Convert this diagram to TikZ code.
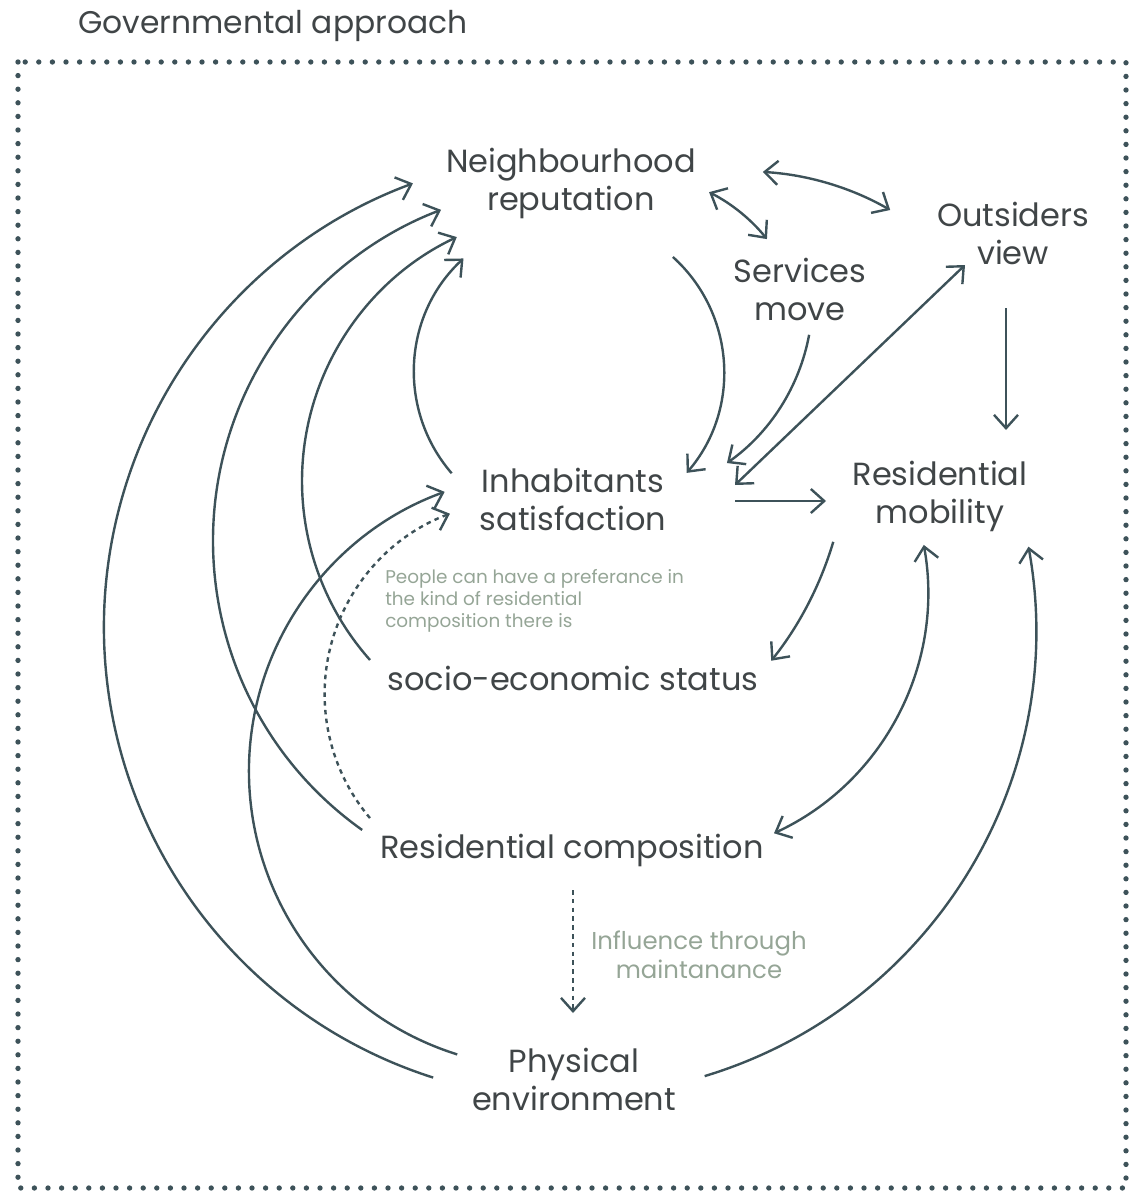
\documentclass[tikz,border=0pt]{standalone}
\usepackage{fontspec}
\setmainfont{Poppins}
\usetikzlibrary{arrows.meta,calc}
\definecolor{ln}{HTML}{3D5259}
\definecolor{tx}{HTML}{404547}
\definecolor{note}{HTML}{95A596}
\begin{document}
\begin{tikzpicture}[x=0.75pt,y=-0.75pt,
  lbl/.style={font=\fontsize{24}{28.5}\selectfont, text=tx, align=center, inner sep=0pt},
  notelbl/.style={text=note, inner sep=0pt},
  tipb/.tip={Straight Barb[length=10pt,width=18pt]},
  link/.style={draw=ln, line width=1.8pt, -tipb},
  twoway/.style={draw=ln, line width=1.8pt, tipb-tipb},
  dotlink/.style={link, dash pattern=on 3.4pt off 3.2pt},
]
\useasboundingbox (0,0) rectangle (1128,1192);
% frame
\draw[ln, line width=4pt, line cap=round, dash pattern=on 0pt off 10.2pt] (18,62) rectangle (1126,1188);
% labels
\node[anchor=base west, font=\fontsize{23.5}{28}\selectfont, text=tx, inner sep=0pt] (title) at (78,33) {Governmental approach};
\node[lbl, anchor=base] (rep) at (571,210) {Neighbourhood\\reputation};
\node[lbl, anchor=base] (out) at (1013,264) {Outsiders\\view};
\node[lbl, anchor=base] (serv) at (800,320) {Services\\move};
\node[lbl, anchor=base] (inh) at (573,530) {Inhabitants\\satisfaction};
\node[lbl, anchor=base] (mob) at (940,523) {Residential\\mobility};
\node[lbl, anchor=base] (ses) at (573,690) {socio-economic status};
\node[lbl, anchor=base] (comp) at (572,858) {Residential composition};
\node[lbl, anchor=base] (phys) at (574,1110) {Physical\\environment};
\node[notelbl, anchor=base west, align=left, font=\fontsize{13.8}{16.5}\selectfont] (note1) at (385,627) {People can have a preferance in\\the kind of residential\\composition there is};
\node[notelbl, anchor=base, align=center, font=\fontsize{18.3}{21.75}\selectfont] (note2) at (699,978) {Influence through\\maintanance};
% arc centres
\coordinate (c1) at (577,627);
\coordinate (c2) at (570,630);
\coordinate (c3) at (546,771);
\coordinate (c4) at (567.5,541);
\coordinate (c5) at (571.6,481);
\coordinate (c6) at (569,372);
\coordinate (c7) at (517,694);
\coordinate (c8) at (662,592);
\coordinate (c9) at (495,441);
\coordinate (c10) at (610.5,298);
\coordinate (c11) at (745.6,461.4);
\coordinate (c12) at (629,350);
% connector start points
\coordinate (phys-rep) at ([shift={(107.7:473)}]c1);
\coordinate (phys-mob) at ([shift={(73.2:466)}]c2);
\coordinate (phys-inh) at ([shift={(107.4:297)}]c3);
\coordinate (comp-rep) at ([shift={(125.4:354.5)}]c4);
\coordinate (ses-rep) at ([shift={(138.4:269.6)}]c5);
\coordinate (inh-rep) at ([shift={(139.2:155)}]c6);
\coordinate (rep-inh) at ([shift={(-47.9:155)}]c6);
\coordinate (comp-inh) at ([shift={(139.85:192.4)}]c7);
\coordinate (mob-comp) at ([shift={(-10.2:266)}]c8);
\coordinate (mob-ses) at ([shift={(16.6:353)}]c9);
\coordinate (serv-inh) at ([shift={(10.5:202)}]c10);
\coordinate (rep-out) at ([shift={(-86.6:290)}]c11);
\coordinate (rep-serv) at ([shift={(-63.1:177)}]c12);
\coordinate (out-a) at (965,265);
\coordinate (inh-a) at (735,485);
\coordinate (out-b) at (1006,308);
\coordinate (mob-b) at (1006,430);
\coordinate (inh-c) at (735,501);
\coordinate (mob-c) at (826,501);
\coordinate (comp-d) at (573,890);
\coordinate (phys-d) at (573,1013);
% connectors
\draw[link] (phys-rep) arc[start angle=107.7, end angle=249.7, radius=473];
\draw[link] (phys-mob) arc[start angle=73.2, end angle=-10.3, radius=466];
\draw[link] (phys-inh) arc[start angle=107.4, end angle=250.05, radius=297];
\draw[link] (comp-rep) arc[start angle=125.4, end angle=249.1, radius=354.5];
\draw[link] (ses-rep) arc[start angle=138.4, end angle=244.8, radius=269.6];
\draw[link] (inh-rep) arc[start angle=139.2, end angle=227.1, radius=155];
\draw[link] (rep-inh) arc[start angle=-47.9, end angle=40.6, radius=155];
\draw[dotlink] (comp-inh) arc[start angle=139.85, end angle=249.6, radius=192.4];
\draw[twoway] (mob-comp) arc[start angle=-10.2, end angle=65.1, radius=266];
\draw[link] (mob-ses) arc[start angle=16.6, end angle=38.5, radius=353];
\draw[link] (serv-inh) arc[start angle=10.5, end angle=54.8, radius=202];
\draw[twoway] (rep-out) arc[start angle=-86.6, end angle=-60.1, radius=290];
\draw[twoway] (rep-serv) arc[start angle=-63.1, end angle=-38.8, radius=177];
\draw[twoway] (out-a) -- (inh-a);
\draw[link] (out-b) -- (mob-b);
\draw[link] (inh-c) -- (mob-c);
\draw[dotlink] (comp-d) -- (phys-d);
\end{tikzpicture}
\end{document}
